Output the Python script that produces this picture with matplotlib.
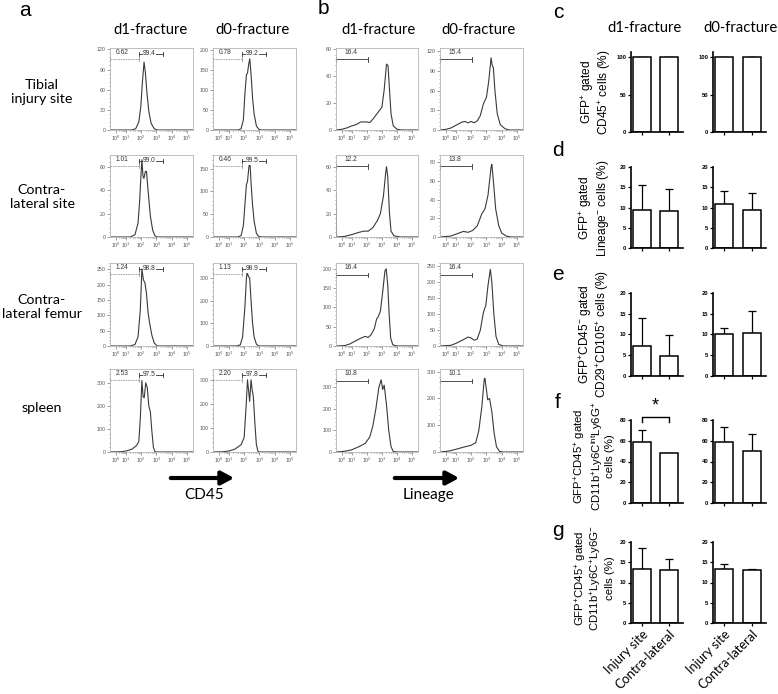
import numpy as np
import matplotlib
matplotlib.use('Agg')
import matplotlib.pyplot as plt
from matplotlib.ticker import FixedLocator, AutoMinorLocator
from matplotlib.patches import FancyArrowPatch

plt.rcParams['font.family'] = ['Liberation Sans', 'DejaVu Sans']
plt.rcParams['mathtext.fontset'] = 'custom'
plt.rcParams['mathtext.rm'] = 'Liberation Sans'
plt.rcParams['mathtext.it'] = 'Liberation Sans:italic'
plt.rcParams['mathtext.bf'] = 'Liberation Sans:bold'

W, H = 778, 694

# ---- panel a: CD45 histograms, points are (log10 intensity, count)
a_tib_d1 = [(-0.5, 0), (1.4, 0), (1.65, 2), (1.85, 12), (1.98, 35), (2.08, 70), (2.19, 101), (2.28, 85),
            (2.38, 55), (2.5, 28), (2.65, 10), (2.85, 2), (3.05, 0), (5.4, 0)]
a_tib_d0 = [(-0.5, 0), (1.6, 0), (1.8, 3), (1.95, 25), (2.05, 90), (2.15, 138), (2.22, 142), (2.3, 165),
            (2.37, 178), (2.45, 140), (2.55, 80), (2.65, 40), (2.8, 10), (2.95, 2), (3.1, 0), (5.4, 0)]
a_con_d1 = [(-0.5, 0), (1.3, 0), (1.6, 2), (1.8, 12), (1.9, 30), (2.0, 55), (2.05, 66), (2.12, 52),
            (2.18, 50), (2.28, 56), (2.35, 56), (2.45, 40), (2.6, 18), (2.75, 6), (2.9, 1), (3.05, 0), (5.4, 0)]
a_con_d0 = [(-0.5, 0), (1.6, 0), (1.8, 3), (1.95, 25), (2.05, 70), (2.15, 115), (2.22, 122), (2.3, 150),
            (2.37, 170), (2.45, 120), (2.55, 70), (2.65, 35), (2.8, 8), (2.95, 1), (3.1, 0), (5.4, 0)]
a_fem_d1 = [(-0.5, 0), (1.3, 0), (1.6, 5), (1.8, 30), (1.95, 120), (2.05, 250), (2.15, 215), (2.25, 205),
            (2.35, 170), (2.45, 110), (2.55, 75), (2.7, 35), (2.85, 10), (3.05, 0), (5.4, 0)]
a_fem_d0 = [(-0.5, 0), (1.5, 0), (1.75, 5), (1.9, 40), (2.05, 170), (2.15, 300), (2.2, 325), (2.28, 305),
            (2.36, 300), (2.45, 200), (2.55, 100), (2.65, 40), (2.8, 8), (2.95, 0), (5.4, 0)]
a_spl_d1 = [(-0.5, 0), (0.5, 1), (1.0, 4), (1.4, 12), (1.7, 28), (1.85, 45), (1.95, 150), (2.05, 310),
            (2.13, 240), (2.2, 235), (2.3, 300), (2.4, 280), (2.5, 200), (2.6, 175), (2.7, 90), (2.8, 20),
            (2.9, 2), (3.0, 0), (5.4, 0)]
a_spl_d0 = [(-0.5, 0), (0.5, 1), (1.0, 4), (1.4, 12), (1.8, 30), (2.0, 60), (2.12, 180), (2.22, 300),
            (2.3, 250), (2.36, 210), (2.45, 300), (2.52, 260), (2.6, 230), (2.7, 120), (2.8, 30), (2.9, 3),
            (3.0, 0), (5.4, 0)]
a_curves = [a_tib_d1, a_tib_d0, a_con_d1, a_con_d0, a_fem_d1, a_fem_d0, a_spl_d1, a_spl_d0]
a_ymax = [122, 205, 70, 180, 270, 365, 360, 345]
a_ystep = [30, 50, 20, 50, 50, 100, 100, 100]
a_gate_lo = ['0.62', '0.78', '1.01', '0.46', '1.24', '1.13', '2.53', '2.20']
a_gate_hi = ['99.4', '99.2', '99.0', '99.5', '98.8', '98.9', '97.5', '97.8']

# ---- panel b: Lineage histograms
b_tib_d1 = [(-0.5, 0), (0, 0.5), (0.5, 1.5), (1.0, 3), (1.3, 4), (1.6, 6), (2.0, 6), (2.2, 5.5), (2.4, 8),
            (2.6, 11), (2.8, 14), (3.0, 17), (3.15, 30), (3.3, 49), (3.4, 48), (3.5, 30), (3.6, 12),
            (3.75, 3), (4.0, 0.5), (4.3, 0), (5.4, 0)]
b_tib_d0 = [(-0.5, 0), (0, 1), (0.5, 3), (1.0, 7), (1.4, 12), (1.6, 13), (1.8, 11), (2.0, 13), (2.2, 11),
            (2.4, 14), (2.6, 22), (2.8, 40), (3.0, 50), (3.15, 75), (3.3, 110), (3.38, 98), (3.45, 95),
            (3.55, 60), (3.7, 25), (3.9, 8), (4.2, 2), (4.5, 0), (5.4, 0)]
b_con_d1 = [(-0.5, 38), (-0.45, 0), (0.3, 0.5), (1.0, 2), (1.5, 4), (1.8, 5), (2.1, 5), (2.4, 8), (2.7, 14),
            (2.9, 20), (3.1, 35), (3.25, 55), (3.3, 60), (3.38, 52), (3.5, 20), (3.6, 5), (3.8, 1),
            (4.2, 0), (5.4, 0)]
b_con_d0 = [(-0.5, 0), (0.5, 1), (1.0, 3), (1.5, 6), (1.8, 5), (2.1, 7), (2.4, 12), (2.7, 25), (2.9, 30),
            (3.1, 45), (3.3, 75), (3.35, 78), (3.45, 60), (3.6, 30), (3.8, 12), (4.0, 4), (4.3, 1),
            (4.6, 0), (5.4, 0)]
b_fem_d1 = [(-0.5, 0), (0.3, 1), (0.8, 5), (1.2, 12), (1.6, 20), (1.9, 25), (2.1, 22), (2.3, 30), (2.5, 45),
            (2.65, 70), (2.75, 75), (2.9, 90), (3.05, 140), (3.2, 195), (3.28, 200), (3.38, 160),
            (3.48, 80), (3.58, 20), (3.72, 3), (4.0, 0), (5.4, 0)]
b_fem_d0 = [(-0.5, 0), (0.5, 2), (1.0, 8), (1.5, 20), (1.8, 28), (2.0, 25), (2.2, 18), (2.4, 22), (2.6, 50),
            (2.8, 105), (2.9, 120), (2.95, 125), (3.1, 190), (3.25, 240), (3.35, 200), (3.48, 100),
            (3.62, 30), (3.8, 5), (4.1, 0), (5.4, 0)]
b_spl_d1 = [(-0.5, 0), (0, 2), (0.5, 5), (1.0, 10), (1.5, 25), (1.9, 40), (2.2, 70), (2.4, 120), (2.6, 200),
            (2.8, 300), (2.95, 335), (3.05, 290), (3.15, 310), (3.3, 220), (3.45, 100), (3.6, 25),
            (3.75, 2), (4.0, 0), (5.4, 0)]
b_spl_d0 = [(-0.5, 0), (0, 2), (0.5, 5), (1, 10), (1.5, 18), (2.0, 25), (2.3, 35), (2.5, 80), (2.7, 170),
            (2.85, 270), (2.9, 275), (3.0, 230), (3.08, 195), (3.2, 200), (3.35, 150), (3.5, 70),
            (3.65, 20), (3.85, 2), (4.1, 0), (5.4, 0)]
b_curves = [b_tib_d1, b_tib_d0, b_con_d1, b_con_d0, b_fem_d1, b_fem_d0, b_spl_d1, b_spl_d0]
b_ymax = [61, 125, 70, 88, 215, 260, 385, 310]
b_ystep = [20, 30, 20, 20, 50, 50, 100, 100]
b_gate = ['16.4', '15.4', '12.2', '13.8', '16.4', '16.4', '10.8', '10.1']

row_names = ['Tibial\ninjury site', 'Contra-\nlateral site', 'Contra-\nlateral femur', 'spleen']
col_names = ['d1-fracture', 'd0-fracture']

# ---- panels c-g: bar charts, [d1 pair, d0 pair]
bar_groups = ['Injury site', 'Contra-lateral']
c_mean = [[100, 100], [100, 100]]
c_sd = [[0, 0], [0, 0]]
d_mean = [[9.5, 9.2], [10.8, 9.3]]
d_sd = [[6.0, 5.4], [3.3, 4.3]]
e_mean = [[7.3, 4.8], [10.2, 10.4]]
e_sd = [[6.6, 5.0], [1.3, 5.3]]
f_mean = [[59, 48], [59, 50]]
f_sd = [[11.5, 0.5], [14, 16.5]]
g_mean = [[13.3, 13.1], [13.4, 13.0]]
g_sd = [[5.1, 2.6], [1.1, 0.3]]
bar_ylabels = [
    'GFP$^{+}$ gated\nCD45$^{+}$ cells (%)',
    'GFP$^{+}$ gated\nLineage$^{-}$ cells (%)',
    'GFP$^{+}$CD45$^{-}$ gated\nCD29$^{+}$CD105$^{+}$ cells (%)',
    'GFP$^{+}$CD45$^{+}$ gated\nCD11b$^{+}$Ly6C$^{\\mathrm{int}}$Ly6G$^{+}$\ncells (%)',
    'GFP$^{+}$CD45$^{+}$ gated\nCD11b$^{+}$Ly6C$^{+}$Ly6G$^{-}$\ncells (%)',
]

fig = plt.figure(figsize=(W / 100, H / 100), dpi=100)


def px_axes(l, t, r, b):
    return fig.add_axes([l / W, 1 - b / H, (r - l) / W, (b - t) / H])


def ftext(x, y, s, **kw):
    return fig.text(x / W, 1 - y / H, s, **kw)


# logicle-like decade axis used by FlowJo
knot_dec = [-10, -0.5, 0, 1, 2, 3, 4, 5, 5.4, 15]
knot_pos = [-1.33, 0, 0.07, 0.19, 0.375, 0.56, 0.745, 0.93, 1.0, 2.68]
fwd = lambda x: np.interp(x, knot_dec, knot_pos)
inv = lambda y: np.interp(y, knot_pos, knot_dec)
minor_x = [d + np.log10(k) for d in range(5) for k in range(2, 10)]


def hist_panel(rect, curve, ymax, ystep):
    ax = px_axes(*rect)
    ax.set_xscale('function', functions=(fwd, inv))
    xs, ys = zip(*curve)
    ax.plot(xs, ys, color='#3a3a3a', lw=0.8)
    ax.set_xlim(-0.5, 5.4)
    ax.set_ylim(0, ymax)
    ax.set_xticks(range(6))
    ax.set_xticklabels([r'$10^{%d}$' % k for k in range(6)])
    ax.xaxis.set_minor_locator(FixedLocator(minor_x))
    ax.set_yticks(np.arange(0, ymax + 0.1, ystep))
    ax.yaxis.set_minor_locator(AutoMinorLocator(5))
    for s in ax.spines.values():
        s.set_color('#b5b5b5')
        s.set_linewidth(0.6)
    ax.tick_params(which='both', direction='out', colors='#555555', labelsize=3.8, width=0.4, pad=1)
    ax.tick_params(which='major', length=2)
    ax.tick_params(which='minor', length=1)
    return ax


def gate(ax, x0, x1, y, color, ls='-'):
    tr = ax.get_xaxis_transform()
    ax.plot([x0, x1], [y, y], color=color, lw=0.6, ls=ls, transform=tr, clip_on=False)
    for xx in (x0, x1):
        ax.plot([xx, xx], [y - 0.025, y + 0.025], color=color, lw=0.6, transform=tr, clip_on=False)


a_cols = [(110, 193), (213, 296)]
b_cols = [(336, 418), (440, 523)]
rows = [(48, 130), (155, 237), (263, 346), (369, 452)]

for i, (t, b) in enumerate(rows):
    for j in range(2):
        k = 2 * i + j
        ax = hist_panel((a_cols[j][0], t, a_cols[j][1], b), a_curves[k], a_ymax[k], a_ystep[k])
        tr = ax.get_xaxis_transform()
        gate(ax, -0.5, 1.85, 0.865, '#9a9a9a', ls=(0, (2, 1)))
        ax.text(0.6, 0.905, a_gate_lo[k], fontsize=4.8, color='#333', ha='center', va='bottom', transform=tr)
        gate(ax, 1.85, 3.45, 0.93, '#333333')
        ax.text(2.55, 0.93, a_gate_hi[k], fontsize=4.8, color='#333', ha='center', va='center', transform=tr,
                bbox=dict(boxstyle='square,pad=0.05', fc='white', ec='none'))

        ax = hist_panel((b_cols[j][0], t, b_cols[j][1], b), b_curves[k], b_ymax[k], b_ystep[k])
        tr = ax.get_xaxis_transform()
        gate(ax, -0.5, 2.05, 0.86, '#333333')
        ax.text(0.9, 0.9, b_gate[k], fontsize=4.8, color='#333', ha='center', va='bottom', transform=tr)

# row labels and column titles
for name, y in zip(row_names, [92, 197, 307, 408]):
    ftext(42, y, name, fontsize=10.3, family='Lato', ha='center', va='center', linespacing=1.2)
for name, x in zip(col_names, [150, 253]):
    ftext(x, 30, name, fontsize=10.7, family='Lato', ha='center', va='center')
for name, x in zip(col_names, [378, 478]):
    ftext(x, 30, name, fontsize=10.7, family='Lato', ha='center', va='center')
for name, x in zip(col_names, [645, 740]):
    ftext(x, 28, name, fontsize=10.7, family='Lato', ha='center', va='center')

# axis arrows
for x0, x1, lab in [(168, 237, 'CD45'), (392, 462, 'Lineage')]:
    arr = FancyArrowPatch((x0 / W, 1 - 478 / H), (x1 / W, 1 - 478 / H), transform=fig.transFigure,
                          arrowstyle='-|>,head_length=0.75,head_width=0.4', mutation_scale=10,
                          lw=3, color='k')
    fig.add_artist(arr)
    ftext((x0 + x1) / 2 + 2, 495, lab, fontsize=11, family='Lato', ha='center', va='center')

# panel letters
for lab, x, y in [('a', 25, 11), ('b', 323, 9), ('c', 558, 13), ('d', 558, 150), ('e', 558, 274),
                  ('f', 558, 403), ('g', 558, 531)]:
    ftext(x, y, lab, fontsize=15, ha='center', va='center')

# bar charts
bar_cols = [(631, 683), (713, 766)]
bar_rows = [(52, 132), (167, 248), (293, 376), (420, 503), (542, 623)]
means = [c_mean, d_mean, e_mean, f_mean, g_mean]
sds = [c_sd, d_sd, e_sd, f_sd, g_sd]
ylims = [(107, [0, 50, 100]), (20, [0, 5, 10, 15, 20]), (20, [0, 5, 10, 15, 20]),
         (80, [0, 20, 40, 60, 80]), (20, [0, 5, 10, 15, 20])]
ylab_x = [596, 594, 594, 594, 594]
ylab_y = [92, 208, 334, 456, 578]

xpos = np.arange(len(bar_groups))
for i, (t, b) in enumerate(bar_rows):
    for j in range(2):
        ax = px_axes(bar_cols[j][0], t, bar_cols[j][1], b)
        ax.bar(xpos, means[i][j], width=0.67, color='white', edgecolor='black', lw=1.1, zorder=2)
        ax.errorbar(xpos, means[i][j], yerr=[[0, 0], sds[i][j]], fmt='none', ecolor='black',
                    elinewidth=0.9, capsize=3.2, capthick=0.9, zorder=1)
        ax.set_xlim(-0.41, 1.52)
        ax.set_ylim(0, ylims[i][0])
        ax.set_yticks(ylims[i][1])
        ax.set_xticks(xpos)
        for s in ['top', 'right']:
            ax.spines[s].set_visible(False)
        for s in ['left', 'bottom']:
            ax.spines[s].set_linewidth(1.2)
        ax.tick_params(labelsize=4.2, length=2.5, width=0.9, pad=1)
        for lbl in ax.get_yticklabels():
            lbl.set_fontweight('bold')
        if i == len(bar_rows) - 1:
            ax.set_xticklabels(bar_groups, rotation=45, ha='right', rotation_mode='anchor',
                               fontsize=9.3, family='Lato')
        else:
            ax.set_xticklabels([])
        if i == 3 and j == 0:
            ax.plot([0, 0, 1, 1], [78, 83, 83, 78], color='black', lw=1, clip_on=False)
            ax.text(0.5, 85, '*', fontsize=13, ha='center', va='bottom')
    nlines = bar_ylabels[i].count('\n') + 1
    ftext(ylab_x[i], ylab_y[i], bar_ylabels[i], rotation=90, ha='center', va='center',
          multialignment='center', fontsize=8.6 if nlines == 2 else 8.2, linespacing=1.05)

fig.savefig('out.png', dpi=100)
